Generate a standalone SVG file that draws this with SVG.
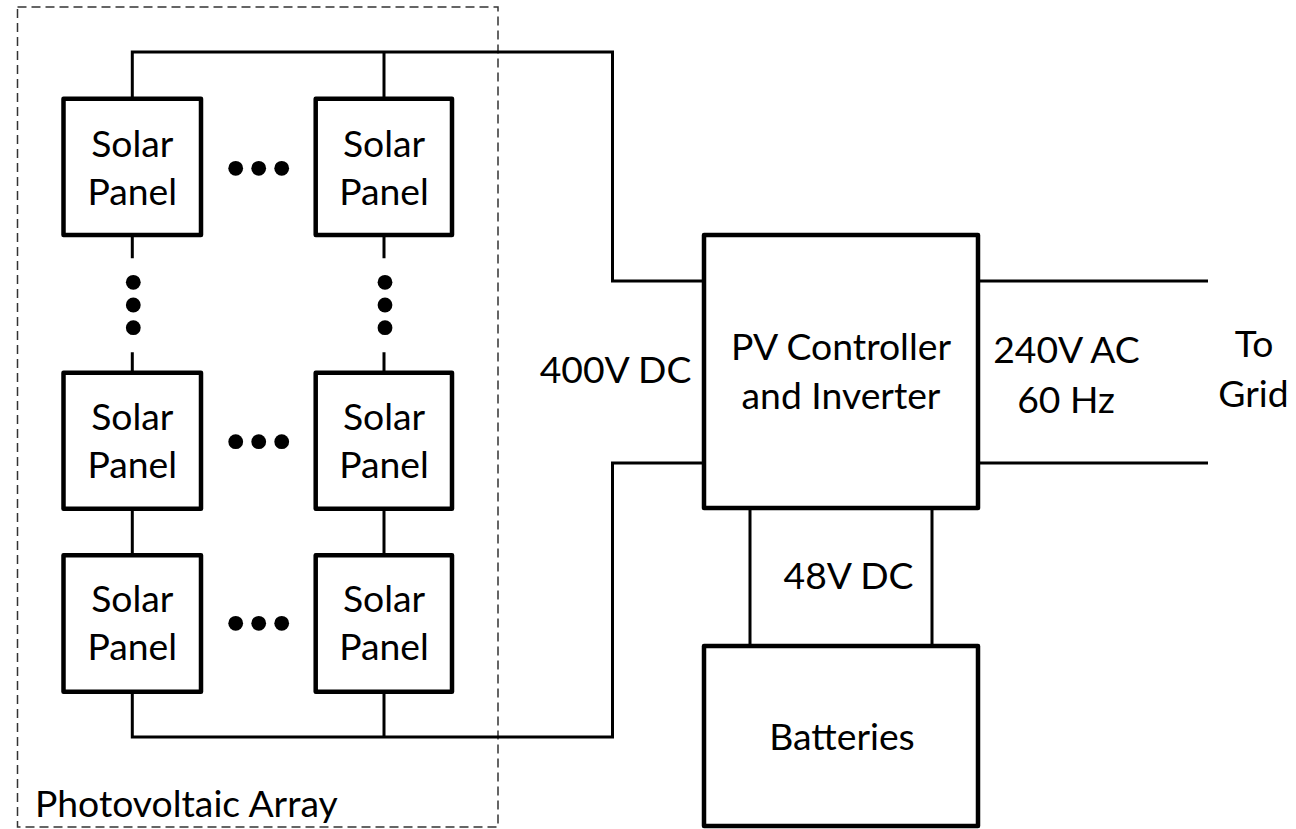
<svg xmlns="http://www.w3.org/2000/svg" width="1296" height="829" viewBox="0 0 1296 829">
<style>
.box{fill:#fff;stroke:#000;stroke-width:4.5;stroke-linejoin:round}
.wire{fill:none;stroke:#000;stroke-width:3}
.lbl{font-family:Lato,"Liberation Sans",sans-serif;font-size:37.3px;fill:#000}
.c{text-anchor:middle}
.dot{fill:#000}
</style>
<rect width="1296" height="829" fill="#fff"/>
<g id="pv-array">
<rect x="17.5" y="7" width="480.5" height="820" fill="none" stroke="#333" stroke-width="1.5" stroke-dasharray="9 5"/>
<text class="lbl" x="35" y="817">Photovoltaic Array</text>
</g>
<g id="connectors">
<path class="wire" d="M132.3,98.7 V52 H612.5 V281 H704"/>
<path class="wire" d="M384,52 V98.7"/>
<path class="wire" d="M132.3,235 V258.3 M384,235 V258.3"/>
<path class="wire" d="M132.3,352.3 V372.8 M384,352.3 V372.8"/>
<path class="wire" d="M132.3,508.7 V555.3 M384,508.7 V555.3"/>
<path class="wire" d="M132.3,691.7 V737 H612.5 V463 H704"/>
<path class="wire" d="M384,691.7 V737"/>
<path class="wire" d="M978,281 H1208 M978,463 H1208"/>
<path class="wire" d="M750,508 V646 M932,508 V646"/>
</g>
<g id="panel-r1c1"><rect class="box" x="63.5" y="98.7" width="137.5" height="136.3"/><text class="lbl c" x="132.3" y="157">Solar</text><text class="lbl c" x="132.3" y="205">Panel</text></g>
<g id="panel-r1c2"><rect class="box" x="315.7" y="98.7" width="136.3" height="136.3"/><text class="lbl c" x="384" y="157">Solar</text><text class="lbl c" x="384" y="205">Panel</text></g>
<g id="panel-r2c1"><rect class="box" x="63.5" y="372.8" width="137.5" height="135.9"/><text class="lbl c" x="132.3" y="430">Solar</text><text class="lbl c" x="132.3" y="478">Panel</text></g>
<g id="panel-r2c2"><rect class="box" x="315.7" y="372.8" width="136.3" height="135.9"/><text class="lbl c" x="384" y="430">Solar</text><text class="lbl c" x="384" y="478">Panel</text></g>
<g id="panel-r3c1"><rect class="box" x="63.5" y="555.3" width="137.5" height="136.4"/><text class="lbl c" x="132.3" y="612">Solar</text><text class="lbl c" x="132.3" y="660">Panel</text></g>
<g id="panel-r3c2"><rect class="box" x="315.7" y="555.3" width="136.3" height="136.4"/><text class="lbl c" x="384" y="612">Solar</text><text class="lbl c" x="384" y="660">Panel</text></g>
<g id="ellipses">
<circle class="dot" cx="235.7" cy="168.3" r="7.4"/><circle class="dot" cx="258.7" cy="168.3" r="7.4"/><circle class="dot" cx="281.7" cy="168.3" r="7.4"/>
<circle class="dot" cx="235.7" cy="441.7" r="7.4"/><circle class="dot" cx="258.7" cy="441.7" r="7.4"/><circle class="dot" cx="281.7" cy="441.7" r="7.4"/>
<circle class="dot" cx="235.7" cy="623.3" r="7.4"/><circle class="dot" cx="258.7" cy="623.3" r="7.4"/><circle class="dot" cx="281.7" cy="623.3" r="7.4"/>
<circle class="dot" cx="133.3" cy="282.3" r="7.4"/><circle class="dot" cx="133.3" cy="305" r="7.4"/><circle class="dot" cx="133.3" cy="327.7" r="7.4"/>
<circle class="dot" cx="385" cy="282.3" r="7.4"/><circle class="dot" cx="385" cy="305" r="7.4"/><circle class="dot" cx="385" cy="327.7" r="7.4"/>
</g>
<g id="inverter"><rect class="box" x="704" y="235" width="274" height="273"/><text class="lbl c" x="841" y="360">PV Controller</text><text class="lbl c" x="841" y="409">and Inverter</text></g>
<g id="batteries"><rect class="box" x="704" y="646" width="274" height="180"/><text class="lbl c" x="842" y="750">Batteries</text></g>
<g id="labels">
<text class="lbl c" x="615.5" y="383">400V DC</text>
<text class="lbl c" x="1066.5" y="363">240V AC</text>
<text class="lbl c" x="1066" y="413">60 Hz</text>
<text class="lbl c" x="1254" y="357">To</text>
<text class="lbl c" x="1253.5" y="407">Grid</text>
<text class="lbl c" x="848.5" y="589">48V DC</text>
</g>
</svg>
